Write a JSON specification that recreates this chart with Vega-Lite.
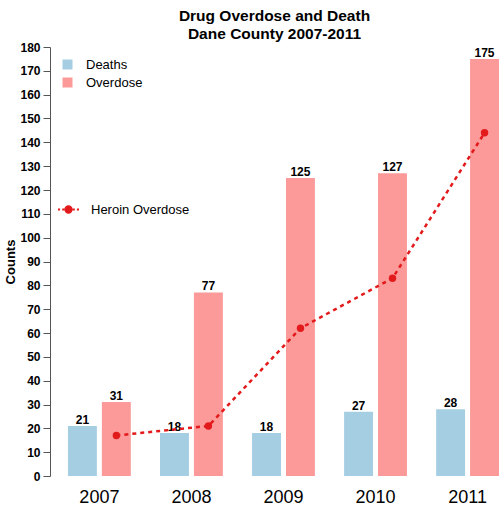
{
  "$schema": "https://vega.github.io/schema/vega-lite/v6.json",
  "width": 449,
  "height": 429,
  "autosize": {"type": "none"},
  "padding": {"left": 50, "top": 47, "right": 0, "bottom": 32},
  "config": {"view": {"stroke": null}, "font": "Liberation Sans"},
  "title": {
    "text": ["Drug Overdose and Death", "Dane County 2007-2011"],
    "anchor": "middle",
    "fontSize": 15.5,
    "fontWeight": "bold",
    "font": "Liberation Sans",
    "color": "black",
    "lineHeight": 18,
    "offset": -1
  },
  "datasets": {
    "bars": [
      {"year": "2007", "series": "Deaths", "value": 21},
      {"year": "2007", "series": "Overdose", "value": 31},
      {"year": "2008", "series": "Deaths", "value": 18},
      {"year": "2008", "series": "Overdose", "value": 77},
      {"year": "2009", "series": "Deaths", "value": 18},
      {"year": "2009", "series": "Overdose", "value": 125},
      {"year": "2010", "series": "Deaths", "value": 27},
      {"year": "2010", "series": "Overdose", "value": 127},
      {"year": "2011", "series": "Deaths", "value": 28},
      {"year": "2011", "series": "Overdose", "value": 175}
    ],
    "heroin": [
      {"year": "2007", "value": 17},
      {"year": "2008", "value": 21},
      {"year": "2009", "value": 62},
      {"year": "2010", "value": 83},
      {"year": "2011", "value": 144}
    ]
  },
  "encoding": {
    "x": {
      "field": "year",
      "type": "ordinal",
      "scale": {"paddingInner": 0.317, "paddingOuter": 0.0975, "align": 1},
      "axis": {
        "title": null,
        "domain": false,
        "ticks": false,
        "labelAngle": 0,
        "labelFontSize": 18,
        "labelColor": "black",
        "labelPadding": 12
      }
    },
    "y": {
      "field": "value",
      "type": "quantitative",
      "scale": {"domain": [0, 180], "nice": false},
      "axis": {
        "title": "Counts",
        "titleFontSize": 13,
        "titleFontWeight": "bold",
        "titleColor": "black",
        "titlePadding": 2,
        "values": [0, 10, 20, 30, 40, 50, 60, 70, 80, 90, 100, 110, 120, 130, 140, 150, 160, 170, 180],
        "tickCount": 40,
        "labelOverlap": false,
        "grid": false,
        "domainColor": "#555555",
        "tickColor": "#555555",
        "tickSize": 7,
        "labelFontSize": 12,
        "labelFontWeight": "bold",
        "labelColor": "black",
        "labelPadding": 3
      }
    }
  },
  "layer": [
    {
      "data": {"name": "bars"},
      "mark": {"type": "bar"},
      "encoding": {
        "xOffset": {"field": "series", "scale": {"paddingInner": 0.147, "paddingOuter": 0}},
        "fill": {
          "field": "series",
          "type": "nominal",
          "scale": {"domain": ["Deaths", "Overdose"], "range": ["#a6cee3", "#fb9a99"]},
          "legend": {
            "title": null,
            "orient": "none",
            "legendX": 11,
            "legendY": 11,
            "symbolType": "square",
            "symbolSize": 100,
            "symbolStrokeWidth": 0,
            "labelFontSize": 13,
            "labelColor": "black",
            "labelOffset": 12,
            "rowPadding": 4
          }
        }
      }
    },
    {
      "data": {"name": "bars"},
      "mark": {"type": "text", "dy": -6, "fontWeight": "bold", "fontSize": 12, "color": "black"},
      "encoding": {
        "xOffset": {"field": "series", "scale": {"paddingInner": 0.147, "paddingOuter": 0}},
        "text": {"field": "value", "type": "quantitative"}
      }
    },
    {
      "data": {"name": "heroin"},
      "mark": {"type": "line", "xOffset": 17, "strokeDash": [4, 4], "strokeWidth": 2.5},
      "encoding": {
        "stroke": {
          "datum": "Heroin Overdose",
          "type": "nominal",
          "scale": {"range": ["#e31a1c"]},
          "legend": {
            "title": null,
            "orient": "none",
            "legendX": 7,
            "legendY": 151,
            "symbolType": "M-1,0L-0.8,0M-0.6,0L-0.4,0M-0.3,0A0.3,0.3,0,1,1,0.3,0A0.3,0.3,0,1,1,-0.3,0ZM0.4,0L0.6,0M0.8,0L1,0",
            "symbolSize": 441,
            "symbolStrokeWidth": 2,
            "symbolFillColor": "#e31a1c",
            "symbolStrokeColor": "#e31a1c",
            "labelFontSize": 13,
            "labelColor": "black",
            "labelOffset": 11
          }
        }
      }
    },
    {
      "data": {"name": "heroin"},
      "mark": {"type": "point", "xOffset": 17, "filled": true, "size": 55, "color": "#e31a1c", "opacity": 1},
      "encoding": {}
    }
  ],
  "resolve": {"scale": {"fill": "independent", "stroke": "independent"}}
}
